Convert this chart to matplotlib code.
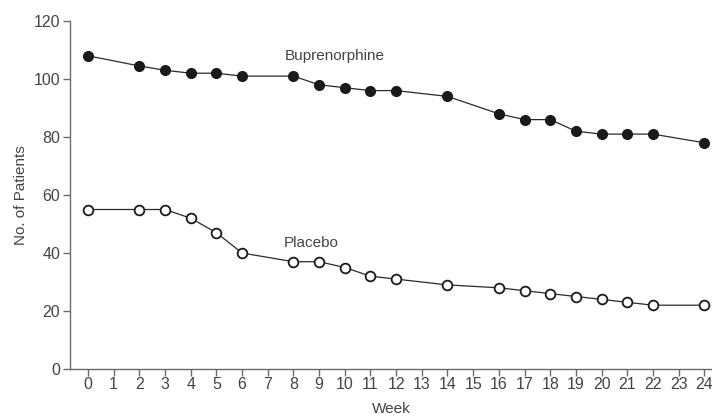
import matplotlib.pyplot as plt

plt.rcParams['font.family'] = ['Liberation Sans', 'DejaVu Sans']

# Weeks at which patients were counted
weeks = [0, 2, 3, 4, 5, 6, 8, 9, 10, 11, 12, 14, 16, 17, 18, 19, 20, 21, 22, 24]
# Number of patients remaining per arm
buprenorphine = [108, 104.5, 103, 102, 102, 101, 101, 98, 97, 96, 96, 94,
                 88, 86, 86, 82, 81, 81, 81, 78]
placebo = [55, 55, 55, 52, 47, 40, 37, 37, 35, 32, 31, 29,
           28, 27, 26, 25, 24, 23, 22, 22]

x_ticks = list(range(0, 25))
y_ticks = [0, 20, 40, 60, 80, 100, 120]

text_col = '#444444'
axis_col = '#6b6b6b'

fig = plt.figure(figsize=(7.12, 4.17), dpi=100)
ax = fig.add_axes([70 / 712, 1 - 369 / 417, 642 / 712, 348 / 417])

ax.plot(weeks, buprenorphine, color='#2a2a2a', lw=0.9, marker='o',
        markersize=7, markerfacecolor='#1a1a1a', markeredgecolor='#1a1a1a',
        markeredgewidth=1.0, clip_on=False, zorder=3)
ax.plot(weeks, placebo, color='#2a2a2a', lw=0.9, marker='o',
        markersize=7, markerfacecolor='white', markeredgecolor='#1a1a1a',
        markeredgewidth=1.3, clip_on=False, zorder=3)

ax.text(9.6, 108, 'Buprenorphine', fontsize=11, color=text_col,
        ha='center', va='center')
ax.text(8.7, 43.6, 'Placebo', fontsize=11, color=text_col,
        ha='center', va='center')

ax.set_xlim(-0.7, 24.3)
ax.set_ylim(0, 120)
ax.set_xticks(x_ticks)
ax.set_yticks(y_ticks)

for side in ['top', 'right']:
    ax.spines[side].set_visible(False)
for side in ['left', 'bottom']:
    ax.spines[side].set_color(axis_col)
    ax.spines[side].set_linewidth(1.0)

ax.tick_params(axis='both', colors=axis_col, labelcolor=text_col,
               labelsize=11.5, length=5, width=1.0, direction='out')
ax.tick_params(axis='x', pad=1)
ax.tick_params(axis='y', pad=2)

ax.set_xlabel('Week', fontsize=11, color=text_col, labelpad=7)
ax.set_ylabel('No. of Patients', fontsize=11, color=text_col, labelpad=4)

fig.savefig('out.png', dpi=100)
